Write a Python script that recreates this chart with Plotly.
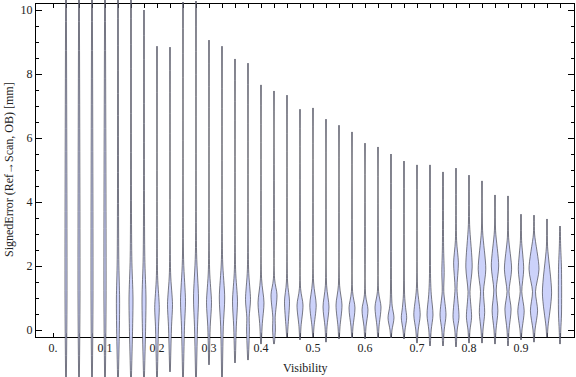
import plotly.graph_objects as go

# ---------------- data ----------------
violin_x = [0.025, 0.05, 0.075, 0.1, 0.125, 0.15, 0.175, 0.2, 0.225, 0.25,
            0.275, 0.3, 0.325, 0.35, 0.375, 0.4, 0.425, 0.45, 0.475, 0.5,
            0.525, 0.55, 0.575, 0.6, 0.625, 0.65, 0.675, 0.7, 0.725, 0.75,
            0.775, 0.8, 0.825, 0.85, 0.875, 0.9, 0.925, 0.95, 0.975]

violin_max = [10.6, 10.6, 10.6, 10.6, 10.6, 10.6, 10.0, 8.87, 8.84, 10.25,
              10.28, 9.06, 8.87, 8.47, 8.34, 7.66, 7.47, 7.34, 6.9, 6.94,
              6.59, 6.4, 6.19, 5.84, 5.72, 5.5, 5.28, 5.16, 5.16, 4.94,
              5.06, 4.84, 4.66, 4.22, 4.19, 3.62, 3.59, 3.47, 3.25]

violin_min = [-1.6, -1.6, -1.6, -1.6, -1.6, -1.6, -1.6, -1.6, -1.31, -1.6,
              -1.6, -1.09, -1.6, -1.03, -0.94, -0.44, -0.44, -0.22, -0.31, -0.22,
              -0.38, -0.28, -0.25, -0.28, -0.25, -0.25, -0.28, -0.41, -0.5, -0.5,
              -0.53, -0.41, -0.41, -0.44, -0.5, -0.31, -0.38, -0.22, -0.44]

# density profile knots per violin: (value, half-width) from top to bottom
violin_profile = [
    [(1.0, 1.0)],
    [(1.0, 1.0)],
    [(1.0, 1.0)],
    [(1.0, 1.1)],
    [(2.2, 0.8), (1.0, 1.6), (0.3, 1.5)],
    [(2.3, 0.8), (1.0, 2.0), (0.2, 1.7)],
    [(2.3, 0.8), (1.0, 2.0), (0.2, 1.7)],
    [(1.7, 0.6), (0.7, 2.3), (0.1, 1.5)],
    [(1.8, 0.6), (0.8, 2.5), (0.1, 1.5)],
    [(2.2, 0.6), (0.9, 2.5), (0.1, 1.5)],
    [(2.4, 0.6), (1.0, 2.5), (0.1, 1.5)],
    [(1.9, 0.6), (0.85, 2.5), (0.1, 1.2)],
    [(2.2, 0.6), (1.0, 2.7), (0.1, 1.3)],
    [(1.9, 0.6), (0.9, 2.5), (0.1, 1.3)],
    [(1.9, 0.6), (0.95, 2.5), (0.4, 1.2), (0.0, 1.4)],
    [(1.6, 0.6), (0.85, 3.0), (0.2, 1.3)],
    [(1.6, 0.6), (1.1, 3.0), (0.4, 1.2), (0.0, 1.4)],
    [(1.5, 0.6), (0.9, 2.5), (0.1, 1.0)],
    [(1.3, 0.6), (0.78, 3.0), (0.1, 1.0)],
    [(1.5, 0.6), (0.78, 3.2), (0.1, 1.0)],
    [(1.4, 0.6), (0.72, 3.0), (0.1, 1.0)],
    [(1.4, 0.6), (0.78, 3.0), (0.1, 1.0)],
    [(1.2, 0.6), (0.69, 3.0), (0.1, 1.0)],
    [(1.1, 0.6), (0.63, 3.0), (0.1, 1.0)],
    [(1.2, 0.6), (0.72, 3.0), (0.1, 1.0)],
    [(1.1, 0.6), (0.75, 1.2), (0.38, 3.0), (0.0, 1.0)],
    [(1.1, 0.6), (0.7, 1.6), (0.38, 2.7), (0.0, 1.0)],
    [(1.3, 0.6), (0.47, 3.2), (0.0, 1.2)],
    [(1.6, 0.6), (1.1, 1.3), (0.47, 3.0), (0.0, 1.2)],
    [(2.6, 0.6), (1.8, 1.2), (1.2, 0.8), (0.47, 3.0), (0.0, 1.2)],
    [(2.8, 0.6), (2.1, 2.4), (1.3, 1.0), (0.4, 3.0), (0.0, 1.2)],
    [(3.3, 0.6), (1.97, 3.2), (1.2, 1.0), (0.4, 2.6), (0.0, 1.0)],
    [(3.1, 0.6), (1.9, 3.8), (1.2, 1.5), (0.55, 2.7), (0.0, 1.0)],
    [(3.1, 0.6), (2.0, 3.7), (1.25, 1.2), (0.6, 2.9), (0.0, 1.0)],
    [(2.9, 0.6), (1.9, 3.6), (1.2, 1.0), (0.65, 3.1), (0.0, 1.0)],
    [(2.8, 0.6), (1.9, 2.7), (1.2, 0.8), (0.6, 3.2), (0.0, 1.0)],
    [(3.0, 0.6), (1.9, 5.0), (1.2, 1.5), (0.6, 3.6), (0.0, 1.0)],
    [(2.6, 0.6), (1.16, 4.6), (0.1, 1.0)],
    [(2.7, 0.6), (1.9, 1.5), (0.5, 1.5), (0.0, 0.8)],
]

x_tick_vals = [0.0] + violin_x
x_tick_text = ["0.", "", "", "", "0.1", "", "", "", "0.2", "", "", "", "0.3",
               "", "", "", "0.4", "", "", "", "0.5", "", "", "", "0.6", "",
               "", "", "0.7", "", "", "", "0.8", "", "", "", "0.9", "", "", ""]
y_tick_vals = [0, 2, 4, 6, 8, 10]

# ---------------- layout geometry ----------------
W, H = 576, 377
frame_px = dict(left=36, right=574, top=4, bottom=337)
frame_xrange = [-0.03269, 1.00192]
frame_yrange = [-0.21875, 10.1875]

# data subplot covers the whole figure, with the same scale as the frame
sx = (frame_xrange[1] - frame_xrange[0]) / (frame_px["right"] - frame_px["left"])
sy = (frame_yrange[1] - frame_yrange[0]) / (frame_px["bottom"] - frame_px["top"])
data_xrange = [frame_xrange[0] - frame_px["left"] * sx,
               frame_xrange[1] + (W - frame_px["right"]) * sx]
data_yrange = [frame_yrange[0] - (H - frame_px["bottom"]) * sy,
               frame_yrange[1] + frame_px["top"] * sy]

TAIL = 0.35
FILL = "rgb(204,210,250)"
EDGE = "rgba(55,55,65,0.72)"

fig = go.Figure()

for xc, ymax, ymin, prof in zip(violin_x, violin_max, violin_min, violin_profile):
    pts = [(ymax, TAIL)] + [p for p in prof if ymin < p[0] < ymax] + [(ymin, TAIL)]
    ys = [v for (v, _) in pts]
    line = dict(color=EDGE, width=0.9, shape="spline", smoothing=0.8)
    fig.add_trace(go.Scatter(
        x=[xc + w * sx for (_, w) in pts], y=ys, mode="lines", line=line,
        xaxis="x2", yaxis="y2", hoverinfo="skip", showlegend=False))
    fig.add_trace(go.Scatter(
        x=[xc - w * sx for (_, w) in pts], y=ys, mode="lines", line=line,
        fill="tonextx", fillcolor=FILL,
        xaxis="x2", yaxis="y2", hoverinfo="skip", showlegend=False))

# invisible anchor trace for the frame subplot
fig.add_trace(go.Scatter(x=[0.5], y=[5], mode="markers", marker=dict(opacity=0),
                         xaxis="x", yaxis="y", hoverinfo="skip", showlegend=False))

font = dict(family="Liberation Serif, Times New Roman, serif", size=12, color="#222")

fig.update_layout(
    template="none",
    width=W, height=H,
    margin=dict(l=0, r=0, t=0, b=0, pad=0),
    paper_bgcolor="white", plot_bgcolor="rgba(0,0,0,0)",
    font=font,
    showlegend=False,
    xaxis=dict(
        domain=[frame_px["left"] / W, frame_px["right"] / W],
        range=frame_xrange, anchor="y", automargin=False,
        tickmode="array", tickvals=x_tick_vals, ticktext=x_tick_text,
        ticks="inside", ticklen=4, tickwidth=1, tickcolor="black",
        showline=True, linecolor="black", linewidth=1, mirror="ticks",
        showgrid=False, zeroline=False, tickfont=font,
    ),
    yaxis=dict(
        domain=[(H - frame_px["bottom"]) / H, (H - frame_px["top"]) / H],
        range=frame_yrange, anchor="x", automargin=False,
        tickmode="array", tickvals=y_tick_vals,
        ticks="inside", ticklen=6, tickwidth=1, tickcolor="black",
        minor=dict(dtick=0.5, tick0=0, ticks="inside", ticklen=3,
                   tickcolor="black", showgrid=False),
        showline=True, linecolor="black", linewidth=1, mirror="ticks",
        showgrid=False, zeroline=False, tickfont=font,
    ),
    xaxis2=dict(domain=[0, 1], range=data_xrange, anchor="y2", visible=False,
                showgrid=False, zeroline=False, automargin=False),
    yaxis2=dict(domain=[0, 1], range=data_yrange, anchor="x2", visible=False,
                showgrid=False, zeroline=False, automargin=False),
    annotations=[
        dict(text="Visibility", xref="paper", yref="paper",
             x=(frame_px["left"] + frame_px["right"]) / 2 / W, y=(H - 368) / H,
             xanchor="center", yanchor="middle", showarrow=False, font=font),
        dict(text="SignedError (Ref\u2192Scan, OB) [mm]", xref="paper", yref="paper",
             x=9 / W, y=(H - 170) / H, textangle=-90,
             xanchor="center", yanchor="middle", showarrow=False, font=font),
    ],
)

fig.write_html("out.html",
               config={"displayModeBar": False, "staticPlot": True},
               post_script="document.body.style.margin='0';"
                           "document.body.style.overflow='hidden';")
